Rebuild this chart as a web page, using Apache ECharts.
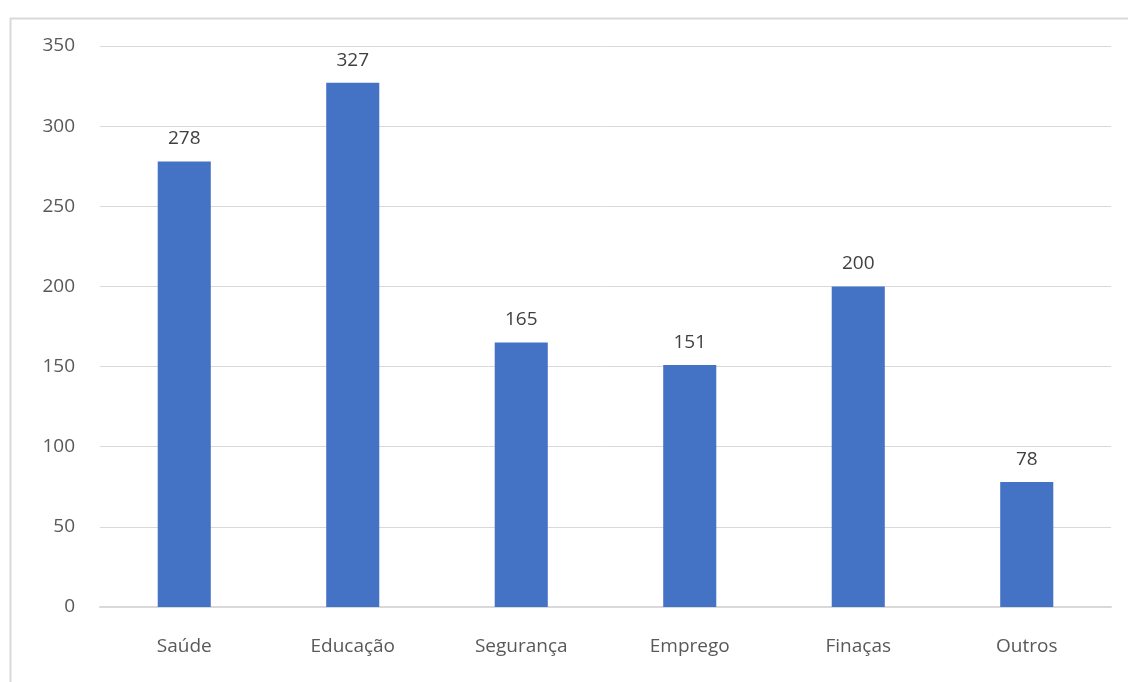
<!DOCTYPE html>
<html>
<head>
<meta charset="utf-8">
<script src="https://cdn.jsdelivr.net/npm/echarts@6/dist/echarts.min.js"></script>
<style>
  html, body { margin: 0; padding: 0; background: #fff; }
  #chart { width: 1128px; height: 682px; }
</style>
</head>
<body>
<div id="chart"></div>
<script>
'use strict';
const categories = ['Saúde', 'Educação', 'Segurança', 'Emprego', 'Finaças', 'Outros'];
const values = [278, 327, 165, 151, 200, 78];
const yTicks = {min: 0, max: 350, interval: 50};

const font = '"Open Sans", "Noto Sans", sans-serif';
const chart = echarts.init(document.getElementById('chart'));
chart.setOption({
  animation: false,
  textStyle: {fontFamily: font},
  graphic: [{
    type: 'rect',
    shape: {x: 10.5, y: 18.5, width: 1130, height: 700},
    style: {fill: 'none', stroke: '#d9d9d9', lineWidth: 2},
    silent: true
  }],
  grid: {left: 100, right: 17, top: 46, bottom: 75},
  xAxis: {
    type: 'category',
    data: categories,
    axisTick: {show: false},
    axisLine: {lineStyle: {color: '#d9d9d9', width: 2}},
    axisLabel: {color: '#595959', fontSize: 19, margin: 30, fontFamily: font}
  },
  yAxis: {
    type: 'value',
    min: yTicks.min,
    max: yTicks.max,
    interval: yTicks.interval,
    axisLine: {show: false},
    axisTick: {show: false},
    splitLine: {lineStyle: {color: '#d9d9d9', width: 1}},
    axisLabel: {color: '#595959', fontSize: 19, margin: 25, fontFamily: font}
  },
  series: [{
    type: 'bar',
    data: values,
    barWidth: '31.5%',
    itemStyle: {color: '#4472c4'},
    label: {
      show: true,
      position: 'top',
      distance: 13,
      color: '#404040',
      fontSize: 19,
      fontFamily: font
    }
  }]
});
</script>
</body>
</html>
